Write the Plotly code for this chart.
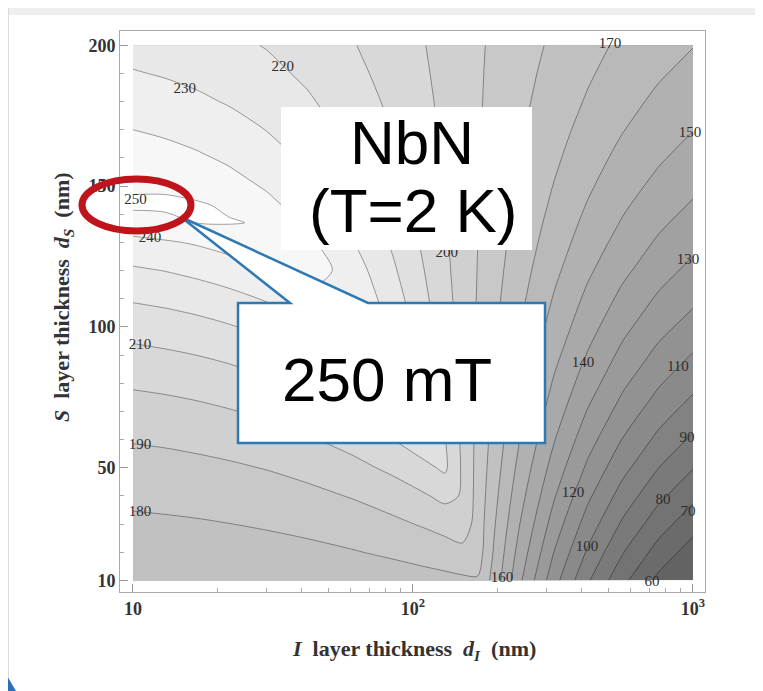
import plotly.graph_objects as go

# I-layer thickness d_I (nm) – grid columns
dI_nm = [10, 13, 17, 22, 30, 42, 60, 85, 110, 130, 150, 170, 195, 240, 320, 420, 560, 750, 1000]
# S-layer thickness d_S (nm) – grid rows
dS_nm = [10, 20, 30, 40, 50, 60, 75, 90, 105, 120, 130, 137, 143, 149, 155, 162, 170, 180, 190, 200]

# maximum field (mT), one row per d_S value, one column per d_I value
H_max = [
    [172.3, 172.5, 172.6, 172.9, 173.2, 173.7, 174.5, 175.5, 176.6, 177.4, 178.3, 179.1, 166.5, 142.1, 113.5, 91.4, 72.6, 57.7, 46.2],
    [175.1, 175.4, 175.7, 176.1, 176.8, 177.8, 179.4, 181.5, 183.6, 185.3, 187.0, 185.1, 168.8, 146.4, 119.6, 98.7, 80.7, 66.3, 55.2],
    [178.3, 178.7, 179.2, 179.9, 180.9, 182.4, 184.7, 187.9, 191.1, 193.7, 196.2, 185.8, 170.9, 150.3, 125.3, 105.6, 88.5, 74.6, 63.9],
    [182.0, 182.5, 183.2, 184.0, 185.4, 187.5, 190.5, 194.8, 199.1, 202.5, 199.3, 186.4, 172.9, 153.9, 130.7, 112.1, 95.9, 82.6, 72.3],
    [186.1, 186.7, 187.6, 188.7, 190.4, 193.0, 196.8, 202.2, 207.6, 211.8, 198.7, 187.0, 174.7, 157.2, 135.7, 118.3, 103.0, 90.3, 80.4],
    [190.7, 191.4, 192.5, 193.8, 195.8, 198.9, 203.6, 210.1, 216.5, 210.5, 198.1, 187.5, 176.3, 160.3, 140.4, 124.1, 109.7, 97.7, 88.2],
    [198.4, 199.4, 200.7, 202.3, 204.9, 208.9, 214.7, 222.9, 220.5, 207.9, 197.3, 188.2, 178.5, 164.5, 146.8, 132.2, 119.0, 108.0, 99.2],
    [207.3, 208.5, 210.1, 212.0, 215.2, 219.9, 227.1, 232.5, 216.4, 205.7, 196.7, 188.8, 180.4, 168.2, 152.5, 139.4, 127.5, 117.5, 109.4],
    [217.3, 218.7, 220.6, 222.9, 226.7, 232.3, 240.7, 226.4, 212.9, 203.9, 196.1, 189.3, 182.1, 171.4, 157.6, 145.9, 135.2, 126.1, 119.1],
    [228.6, 230.2, 232.4, 235.1, 239.4, 245.9, 235.6, 221.4, 209.9, 202.2, 195.6, 189.8, 183.5, 174.2, 162.1, 151.7, 142.2, 134.0, 127.3],
    [237.5, 238.9, 241.0, 243.9, 248.7, 242.2, 231.1, 218.5, 208.2, 201.3, 195.3, 190.1, 184.3, 175.9, 164.8, 155.3, 146.4, 138.8, 132.6],
    [245.5, 248.0, 250.2, 250.5, 249.3, 238.4, 228.3, 216.6, 207.1, 200.7, 195.1, 190.2, 184.9, 177.0, 166.5, 157.6, 149.2, 141.9, 136.0],
    [251.6, 251.2, 250.9, 249.0, 242.8, 235.5, 226.0, 215.1, 206.2, 200.2, 195.0, 190.4, 185.3, 177.8, 168.0, 159.4, 151.4, 144.5, 138.9],
    [249.2, 249.4, 247.8, 244.5, 239.5, 232.7, 223.9, 213.7, 205.4, 199.8, 194.8, 190.5, 185.7, 178.7, 169.3, 161.2, 153.6, 147.0, 141.6],
    [247.5, 246.3, 244.2, 241.1, 236.4, 230.1, 221.9, 212.4, 204.6, 199.3, 194.7, 190.6, 186.1, 179.4, 170.6, 162.9, 155.6, 149.4, 144.2],
    [244.5, 242.7, 240.3, 237.4, 233.2, 227.4, 219.8, 211.0, 203.8, 198.9, 194.6, 190.8, 186.6, 180.3, 172.0, 164.7, 157.9, 152.0, 147.1],
    [240.0, 238.3, 236.2, 233.6, 229.8, 224.5, 217.6, 209.6, 202.9, 198.4, 194.4, 190.9, 187.0, 181.2, 173.5, 166.7, 160.4, 154.8, 150.2],
    [235.0, 233.5, 231.6, 229.3, 225.9, 221.2, 215.1, 207.9, 201.9, 197.8, 194.2, 191.1, 187.5, 182.3, 175.2, 169.1, 163.2, 158.1, 153.8],
    [230.6, 229.3, 227.6, 225.5, 222.5, 218.3, 212.8, 206.4, 201.0, 197.3, 194.1, 191.2, 188.0, 183.2, 176.8, 171.2, 165.8, 161.1, 157.2],
    [226.6, 225.5, 224.0, 222.2, 219.5, 215.7, 210.8, 205.0, 200.2, 196.9, 193.9, 191.3, 188.5, 184.1, 178.3, 173.1, 168.2, 163.9, 160.3],
]

# contour labels as printed on the map
label_text = ["220", "230", "250", "240", "210", "190", "180", "170", "150", "130",
              "200", "140", "110", "90", "120", "80", "70", "100", "160", "60"]
label_dI = [34.3, 15.3, 10.2, 11.5, 10.6, 10.6, 10.6, 505, 975, 960,
            132, 405, 883, 952, 373, 781, 960, 418, 208, 714]
label_dS = [192.2, 184.4, 145.0, 131.5, 93.5, 57.9, 34.2, 200.4, 168.7, 123.6,
            126.1, 87.1, 85.7, 60.4, 40.9, 38.4, 34.2, 21.7, 10.7, 9.3]

x_tickvals = [10, 100, 1000]
x_ticktext = ["10", "10<sup>2</sup>", "10<sup>3</sup>"]
y_tickvals = [10, 50, 100, 150, 200]
y_ticktext = ["10", "50", "100", "150", "200"]

# ---------------- figure ----------------
# the page has an 8 px body margin, so the figure is 8 px smaller than the window
OFF = 8
W, H = 755, 683
ML, MR, MT, MB = 112, 58, 23, 99
PW, PH = W - ML - MR, H - MT - MB


def px(x):
    """window pixel x -> paper coordinate"""
    return (x - OFF - ML) / PW


def py(y):
    """window pixel y -> paper coordinate"""
    return (OFF + MT + PH - y) / PH


fig = go.Figure()

fig.add_trace(go.Contour(
    x=dI_nm, y=dS_nm, z=H_max,
    contours=dict(start=60, end=250, size=10, coloring="fill", showlabels=False),
    colorscale=[[0, "rgb(99,99,99)"], [1, "rgb(255,255,255)"]],
    zmin=40, zmax=260, showscale=False,
    line=dict(color="rgba(0,0,0,0.36)", width=1, smoothing=0.8),
    hoverinfo="skip",
))

fig.add_trace(go.Scatter(
    x=label_dI, y=label_dS, mode="text", text=label_text,
    textfont=dict(family="Liberation Serif", size=15, color="#2e2e2e"),
    cliponaxis=False, hoverinfo="skip", showlegend=False,
))

tickfont = dict(family="Liberation Serif", size=18, color="#333333", weight="bold")
fig.update_xaxes(
    type="log", range=[0.9536, 3.0429],
    tickvals=x_tickvals, ticktext=x_ticktext,
    ticks="inside", ticklen=8, tickcolor="#999999", tickwidth=1,
    minor=dict(tickvals=[20, 30, 40, 50, 60, 70, 80, 90, 200, 300, 400, 500, 600, 700, 800, 900],
               ticks="inside", ticklen=4, tickcolor="#aaaaaa"),
    showline=True, mirror=True, linecolor="#aaaaaa", linewidth=1,
    showgrid=False, zeroline=False, tickfont=tickfont,
)
fig.update_yaxes(
    range=[5.85, 205.08],
    tickvals=y_tickvals, ticktext=y_ticktext,
    ticks="inside", ticklen=8, tickcolor="#999999", tickwidth=1,
    minor=dict(tickvals=[20, 30, 40, 60, 70, 80, 90, 110, 120, 130, 140, 160, 170, 180, 190],
               ticks="inside", ticklen=4, tickcolor="#aaaaaa"),
    showline=True, mirror=True, linecolor="#aaaaaa", linewidth=1,
    showgrid=False, zeroline=False, tickfont=tickfont,
)

blue = "#2E78B4"
callout = [(238, 303), (290, 303), (181, 217), (368, 303), (545, 303), (545, 443), (238, 443)]
callout_path = "M " + " L ".join(f"{px(a):.5f},{py(b):.5f}" for a, b in callout) + " Z"
corner = [(0, 664), (16, 691), (0, 691)]
corner_path = "M " + " L ".join(f"{px(a):.5f},{py(b):.5f}" for a, b in corner) + " Z"

shapes = [
    dict(type="rect", xref="paper", yref="paper", x0=px(0), x1=px(771), y0=py(15), y1=py(0),
         fillcolor="#eeeeee", line=dict(width=0), layer="above"),
    dict(type="rect", xref="paper", yref="paper", x0=px(0), x1=px(9), y0=py(691), y1=py(0),
         fillcolor="#d8dcdf", line=dict(width=0), layer="above"),
    dict(type="path", xref="paper", yref="paper", path=corner_path,
         fillcolor="#2a6fb8", line=dict(width=0), layer="above"),
    dict(type="rect", xref="paper", yref="paper", x0=px(281), x1=px(532), y0=py(250), y1=py(107),
         fillcolor="white", line=dict(width=0), layer="above"),
    dict(type="path", xref="paper", yref="paper", path=callout_path,
         fillcolor="white", line=dict(color=blue, width=2.5), layer="above"),
    dict(type="circle", xref="paper", yref="paper", x0=px(82), x1=px(191), y0=py(231), y1=py(179),
         line=dict(color="#C0141C", width=7), fillcolor="rgba(0,0,0,0)", layer="above"),
]

big = dict(family="Liberation Sans", size=62, color="black")
title_font = dict(family="Liberation Serif", size=22, color="#333333")
annotations = [
    dict(xref="paper", yref="paper", x=px(412), y=py(143), text="NbN", showarrow=False,
         font=big, xanchor="center", yanchor="middle"),
    dict(xref="paper", yref="paper", x=px(413), y=py(211), text="(T=2 K)", showarrow=False,
         font=big, xanchor="center", yanchor="middle"),
    dict(xref="paper", yref="paper", x=px(387), y=py(379), text="250 mT", showarrow=False,
         font=big, xanchor="center", yanchor="middle"),
    dict(xref="paper", yref="paper", x=px(414), y=py(650),
         text="<b><i>I</i>  layer thickness  <i>d<sub>I</sub></i>  (nm)</b>", showarrow=False,
         font=title_font, xanchor="center", yanchor="middle"),
    dict(xref="paper", yref="paper", x=px(63), y=py(297), textangle=-90,
         text="<b><i>S</i>  layer thickness  <i>d<sub>S</sub></i>  (nm)</b>", showarrow=False,
         font=title_font, xanchor="center", yanchor="middle"),
]

fig.update_layout(
    width=W, height=H,
    margin=dict(l=ML, r=MR, t=MT, b=MB),
    paper_bgcolor="white", plot_bgcolor="white",
    showlegend=False,
    shapes=shapes, annotations=annotations,
)

fig.write_html("out.html")
